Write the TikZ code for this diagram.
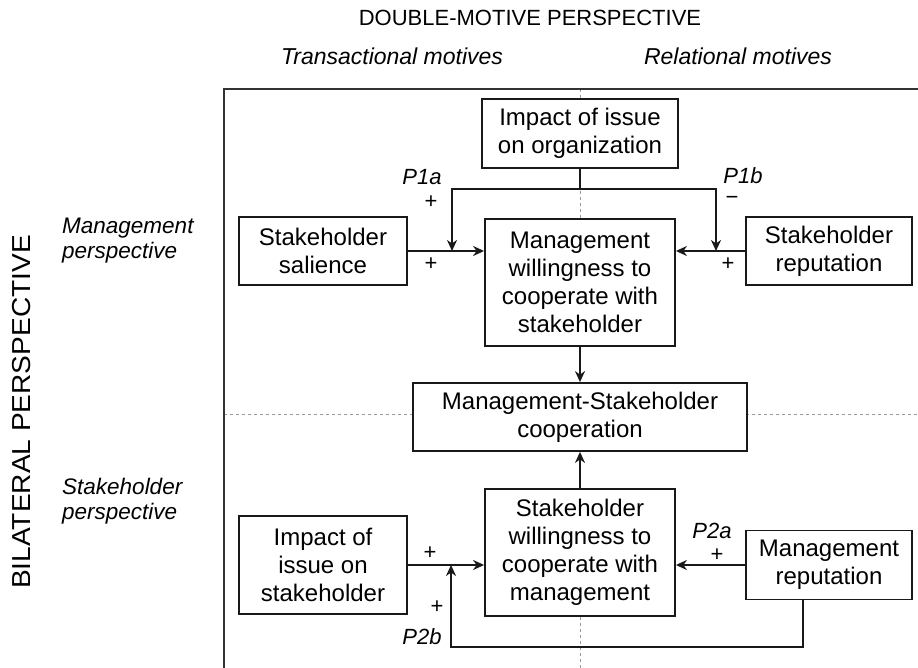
\documentclass[tikz,border=0pt]{standalone}
\usepackage{fontspec}
\setmainfont{Liberation Sans}
\usetikzlibrary{arrows.meta}
\usetikzlibrary{calc}

\tikzset{
  box/.style={draw=black!90, line width=1.8pt, fill=white, align=center, inner sep=0pt, font=\fontsize{24}{28}\selectfont},
  flow/.style={draw=black!90, line width=1.8pt, -{Stealth[length=11pt,width=10pt,inset=3.5pt]}},
  guide/.style={draw=black!40, line width=0.8pt, dash pattern=on 3pt off 3pt},
  frameline/.style={draw=black!80, line width=2pt},
  sign/.style={font=\fontsize{22}{26}\selectfont, inner sep=0pt},
  prop/.style={font=\fontsize{22}{26}\selectfont\itshape, inner sep=0pt},
  colhead/.style={font=\fontsize{23}{27}\selectfont\itshape, inner sep=0pt},
  rowhead/.style={font=\fontsize{22.5}{25}\selectfont\itshape, align=left, anchor=west, inner sep=0pt},
  axishead/.style={font=\fontsize{22}{26}\selectfont, inner sep=0pt},
}

\begin{document}
\begin{tikzpicture}[x=1pt,y=-1pt]
        \newcommand{\figdmmidx}{580}
        \newcommand{\figdmleftx}{323}
        \newcommand{\figdmrightx}{829}
        \newcommand{\figdmsidewidth}{168}
        \newcommand{\figdmmidwidth}{190}
        \newcommand{\figdmtopy}{133.5}
        \newcommand{\figdmupy}{251}
        \newcommand{\figdmwillay}{282.5}
        \newcommand{\figdmcoopy}{417}
        \newcommand{\figdmwillby}{552.5}
        \newcommand{\figdmlowy}{565}
        \newcommand{\figdmsplity}{189}
        \newcommand{\figdmtapax}{452}
        \newcommand{\figdmtapbx}{716}
        \newcommand{\figdmtapcx}{451}
        \newcommand{\figdmloopx}{803}
        \newcommand{\figdmloopy}{647}
        \newcommand{\figdmframex}{224}
        \newcommand{\figdmframey}{89}
        \newcommand{\figdmguidey}{414}
        \useasboundingbox (0,0) rectangle (918,668);
        \draw[guide] (\figdmmidx,\figdmframey) -- (\figdmmidx,668);
        \draw[guide] (\figdmframex,\figdmguidey) -- (918,\figdmguidey);
        \draw[frameline] (\figdmframex,668) -- (\figdmframex,\figdmframey) -- (918,\figdmframey);
        \node[axishead] (dmhead) at (530,18) {DOUBLE-MOTIVE PERSPECTIVE};
        \node[colhead] (transhead) at (392,56) {Transactional motives};
        \node[colhead] (relhead) at (738,56) {Relational motives};
        \node[axishead, rotate=90, font=\fontsize{26}{30}\selectfont, xscale=1.08] (bilathead) at (22,412) {BILATERAL PERSPECTIVE};
        \node[rowhead] (mgmthead) at (62,241) {Management\\perspective};
        \node[rowhead] (stakehead) at (62,501) {Stakeholder\\perspective};
        \node[box, minimum width=196pt, minimum height=69pt] (orgbox) at (\figdmmidx,\figdmtopy) {Impact of issue\\on organization};
        \node[box, minimum width=\figdmsidewidth pt, minimum height=68pt] (salbox) at (\figdmleftx,\figdmupy) {Stakeholder\\salience};
        \node[box, minimum width=\figdmmidwidth pt, minimum height=127pt] (mwillbox) at (\figdmmidx,\figdmwillay) {Management\\willingness to\\cooperate with\\stakeholder};
        \node[box, minimum width=166pt, minimum height=68pt] (srepbox) at (\figdmrightx,\figdmupy) {Stakeholder\\reputation};
        \node[box, minimum width=334pt, minimum height=68pt] (coopbox) at (\figdmmidx,\figdmcoopy) {Management-Stakeholder\\cooperation};
        \node[box, minimum width=\figdmmidwidth pt, minimum height=127pt] (swillbox) at (\figdmmidx,\figdmwillby) {Stakeholder\\willingness to\\cooperate with\\management};
        \node[box, minimum width=\figdmsidewidth pt, minimum height=98pt] (impbox) at (\figdmleftx,\figdmlowy) {Impact of\\issue on\\stakeholder};
        \node[box, minimum width=166pt, minimum height=69pt] (mrepbox) at (\figdmrightx,\figdmlowy) {Management\\reputation};
        \coordinate (orgsplit) at (\figdmmidx,\figdmsplity);
        \coordinate (tapa) at (\figdmtapax,\figdmupy);
        \coordinate (tapb) at (\figdmtapbx,\figdmupy);
        \coordinate (tapc) at (\figdmtapcx,\figdmlowy);
        \coordinate (loopcorner) at (\figdmtapcx,\figdmloopy);
        \coordinate (loopstart) at (\figdmloopx,\figdmlowy);
        \draw[flow] (orgbox.south) -- (orgsplit) -| (tapa);
        \draw[flow] (orgsplit) -| (tapb);
        \draw[flow] (salbox.east) -- (mwillbox.west |- salbox.east);
        \draw[flow] (srepbox.west) -- (mwillbox.east |- srepbox.west);
        \draw[flow] (mwillbox.south) -- (coopbox.north);
        \draw[flow] (swillbox.north) -- (coopbox.south);
        \draw[flow] (impbox.east) -- (swillbox.west |- impbox.east);
        \draw[flow] (mrepbox.west) -- (swillbox.east |- mrepbox.west);
        \draw[flow] (loopstart |- mrepbox.south) |- (loopcorner) -- (tapc);
        \node[prop] (pa) at (422,177) {P1a};
        \node[sign] (pasign) at (431,202) {+};
        \node[sign] (salsign) at (431,264) {+};
        \node[prop] (pb) at (743,176) {P1b};
        \node[sign] (pbsign) at (732,200) {−};
        \node[sign] (srepsign) at (728,264) {+};
        \node[prop] (pc) at (712,531) {P2a};
        \node[sign] (pcsign) at (717,555) {+};
        \node[sign] (impsign) at (430,553) {+};
        \node[sign] (pdsign) at (437,607) {+};
        \node[prop] (pd) at (422,637) {P2b};
    \end{tikzpicture}
\end{document}
